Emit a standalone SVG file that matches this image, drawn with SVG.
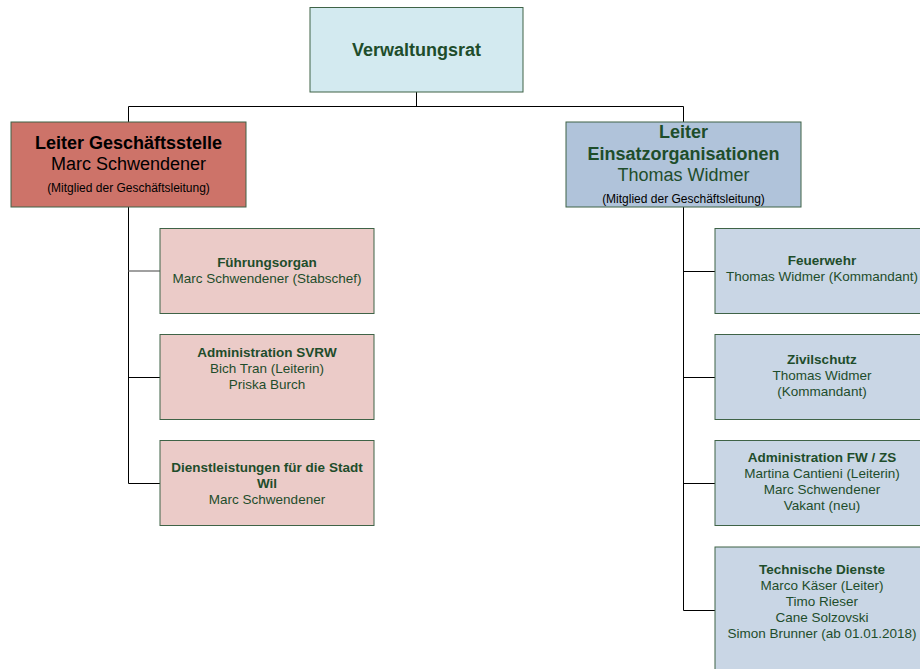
<svg xmlns="http://www.w3.org/2000/svg" width="920" height="669" viewBox="0 0 920 669">
<style>
text{font-family:"Liberation Sans",Arial,sans-serif;text-anchor:middle;fill:#1e4d2b}
.box{stroke:#3f6347;stroke-width:1}
.b{font-weight:bold}
.s12{font-size:13.5px}
.con{fill:none;stroke:#000;stroke-width:1}
</style>
<rect width="920" height="669" fill="#fff"/>
<g id="connectors">
<path class="con" d="M416.5 92V106.5M128.5 106.5H683.5M128.5 106.5V122M683.5 106.5V122"/>
<path class="con" d="M128.5 207V483.5H160M128.5 377.5H160"/>
<path d="M128.5 271H160" fill="none" stroke="#808080" stroke-width="1.5"/>
<path class="con" d="M683.5 207V610.5H715M683.5 271.5H715M683.5 377.5H715M683.5 483.5H715"/>
</g>
<g id="verwaltungsrat">
<rect class="box" x="310" y="7.5" width="213" height="84.5" fill="#d3eaf0"/>
<text x="416.5" y="56" class="b" font-size="18px">Verwaltungsrat</text>
</g>
<g id="leiter-gs">
<rect class="box" x="11" y="122" width="235" height="85" fill="#cd7369"/>
<text x="128.5" y="149" class="b" font-size="18px" style="fill:#000">Leiter Geschäftsstelle</text>
<text x="128.5" y="170" font-size="18px" style="fill:#000">Marc Schwendener</text>
<text x="128.5" y="192" font-size="12px" style="fill:#000">(Mitglied der Geschäftsleitung)</text>
</g>
<g id="leiter-eo">
<rect class="box" x="566" y="122" width="235" height="85" fill="#b0c3da"/>
<text x="683.5" y="138" class="b" font-size="18px">Leiter</text>
<text x="683.5" y="159.5" class="b" font-size="18px">Einsatzorganisationen</text>
<text x="683.5" y="181" font-size="18px">Thomas Widmer</text>
<text x="683.5" y="203" font-size="12px" style="fill:#000">(Mitglied der Geschäftsleitung)</text>
</g>
<g id="fuehrungsorgan">
<rect class="box" x="160" y="228.5" width="214" height="85" fill="#ebcbc8"/>
<text x="267" y="267" class="b s12">Führungsorgan</text>
<text x="267" y="283" class="s12">Marc Schwendener (Stabschef)</text>
</g>
<g id="admin-svrw">
<rect class="box" x="160" y="334.5" width="214" height="85" fill="#ebcbc8"/>
<text x="267" y="357" class="b s12">Administration SVRW</text>
<text x="267" y="373" class="s12">Bich Tran (Leiterin)</text>
<text x="267" y="389" class="s12">Priska Burch</text>
</g>
<g id="dienstleistungen">
<rect class="box" x="160" y="440.5" width="214" height="85" fill="#ebcbc8"/>
<text x="267" y="472" class="b s12">Dienstleistungen für die Stadt</text>
<text x="267" y="488" class="b s12">Wil</text>
<text x="267" y="504" class="s12">Marc Schwendener</text>
</g>
<g id="feuerwehr">
<rect class="box" x="715" y="228.5" width="214" height="85" fill="#c9d6e5"/>
<text x="822" y="265" class="b s12">Feuerwehr</text>
<text x="822" y="281" class="s12">Thomas Widmer (Kommandant)</text>
</g>
<g id="zivilschutz">
<rect class="box" x="715" y="334.5" width="214" height="85" fill="#c9d6e5"/>
<text x="822" y="364" class="b s12">Zivilschutz</text>
<text x="822" y="380" class="s12">Thomas Widmer</text>
<text x="822" y="396" class="s12">(Kommandant)</text>
</g>
<g id="admin-fwzs">
<rect class="box" x="715" y="440.5" width="214" height="85" fill="#c9d6e5"/>
<text x="822" y="462" class="b s12">Administration FW / ZS</text>
<text x="822" y="478" class="s12">Martina Cantieni (Leiterin)</text>
<text x="822" y="494" class="s12">Marc Schwendener</text>
<text x="822" y="510" class="s12">Vakant (neu)</text>
</g>
<g id="technische-dienste">
<rect class="box" x="715" y="547" width="214" height="140" fill="#c9d6e5"/>
<text x="822" y="574" class="b s12">Technische Dienste</text>
<text x="822" y="590" class="s12">Marco Käser (Leiter)</text>
<text x="822" y="606" class="s12">Timo Rieser</text>
<text x="822" y="622" class="s12">Cane Solzovski</text>
<text x="822" y="638" class="s12">Simon Brunner (ab 01.01.2018)</text>
</g>
</svg>
